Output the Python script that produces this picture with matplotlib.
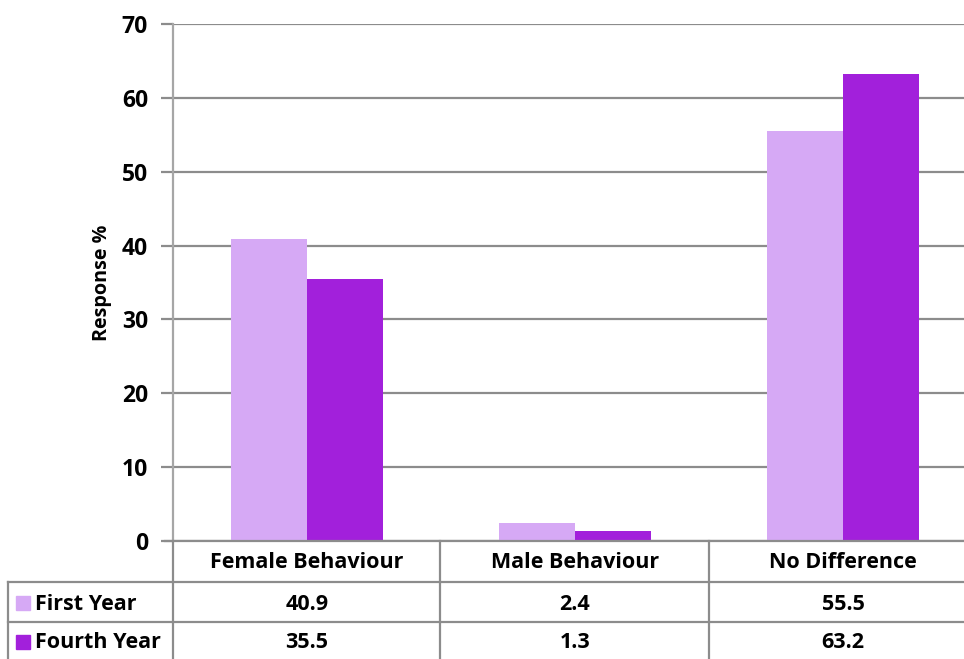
import numpy as np
import matplotlib
matplotlib.use("Agg")
import matplotlib.pyplot as plt
from matplotlib.lines import Line2D
from matplotlib.patches import Rectangle

categories = ["Female Behaviour", "Male Behaviour", "No Difference"]
series = ["First Year", "Fourth Year"]
first_year = [40.9, 2.4, 55.5]
fourth_year = [35.5, 1.3, 63.2]
colors = ["#D6A9F5", "#A220DB"]
yticks = [0, 10, 20, 30, 40, 50, 60, 70]

plt.rcParams['font.family'] = ['Open Sans', 'DejaVu Sans']
plt.rcParams['font.weight'] = 'bold'

W, H = 964, 659
fig = plt.figure(figsize=(W / 100, H / 100), dpi=100)

# pixel helpers
def fx(px):
    return px / W

def fy(py):
    return 1 - py / H

left, right, top, bottom = 173, 977, 24, 541
ax = fig.add_axes([fx(left), fy(bottom), fx(right) - fx(left), fy(top) - fy(bottom)])

grey = "#8C8C8C"
x = np.arange(len(categories))
bw = 0.285
ax.bar(x - bw / 2, first_year, bw, color=colors[0], zorder=3)
ax.bar(x + bw / 2, fourth_year, bw, color=colors[1], zorder=3)

fs = 15.5
ax.set_xlim(-0.5, len(categories) - 0.5)
ax.set_ylim(0, 70)
ax.set_yticks(yticks)
ax.set_yticklabels([str(t) for t in yticks], fontsize=16.5, fontweight='bold')
ax.set_xticks([])
ax.yaxis.grid(True, color=grey, linewidth=1.6, zorder=0)
ax.tick_params(axis='y', length=9, width=1.6, color=grey, pad=9)
for s in ['top', 'right', 'bottom']:
    ax.spines[s].set_visible(False)
ax.spines['left'].set_color("#A6A6A6")
ax.spines['left'].set_linewidth(1.6)
ax.set_ylabel("Response %", fontsize=14.2, fontweight='bold', labelpad=7)

# data table drawn below the axes
lw = 1.6
col_x = [173, 440, 709]

def hline(y, x0, x1):
    fig.add_artist(Line2D([fx(x0), fx(x1)], [fy(y), fy(y)], color=grey, lw=lw))

def vline(xp, y0, y1):
    fig.add_artist(Line2D([fx(xp), fx(xp)], [fy(y0), fy(y1)], color=grey, lw=lw))

hline(541, 165, W)
hline(582, 8, W)
hline(622, 8, W)
vline(8, 582, 660)
for cx in col_x:
    vline(cx, 541, 660)

cw = (right - left) / len(categories)
for i, c in enumerate(categories):
    cxp = left + cw * (i + 0.5)
    fig.text(fx(cxp), fy(563), c, ha='center', va='center', fontsize=fs, fontweight='bold')
    fig.text(fx(cxp), fy(604), f"{first_year[i]:.1f}", ha='center', va='center', fontsize=fs, fontweight='bold')
    fig.text(fx(cxp), fy(643), f"{fourth_year[i]:.1f}", ha='center', va='center', fontsize=fs, fontweight='bold')

for j, (name, col) in enumerate(zip(series, colors)):
    yc = 603 + 39 * j
    fig.add_artist(Rectangle((fx(16), fy(yc + 7)), fx(14), fy(0) - fy(14), color=col,
                             transform=fig.transFigure))
    fig.text(fx(35), fy(yc + 1), name, ha='left', va='center', fontsize=fs, fontweight='bold')

fig.savefig("out.png", dpi=100)
